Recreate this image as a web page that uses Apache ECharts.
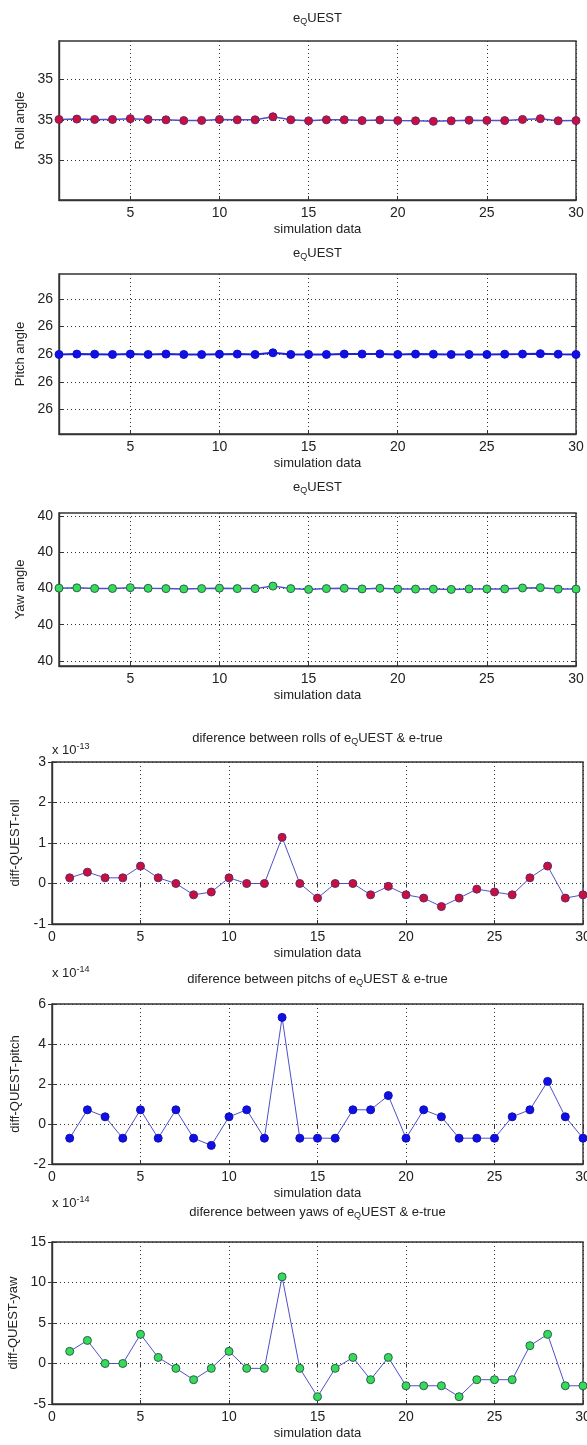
<!DOCTYPE html>
<html>
<head>
<meta charset="utf-8">
<script src="https://cdn.jsdelivr.net/npm/echarts@6/dist/echarts.min.js"></script>
<style>
  html, body { margin: 0; padding: 0; background: #fff; }
  #chart { width: 587px; height: 1445px; }
</style>
</head>
<body>
<div id="chart"></div>
<script>
// Simulation sample index
const samples = [1, 2, 3, 4, 5, 6, 7, 8, 9, 10, 11, 12, 13, 14, 15,
                 16, 17, 18, 19, 20, 21, 22, 23, 24, 25, 26, 27, 28, 29, 30];

// True attitude (degrees)
const trueRoll = 35;
const truePitch = 26;
const trueYaw = 40;

// e_QUEST minus e-true, roll in units of 1e-13
const rollDiff = [0.14, 0.28, 0.14, 0.14, 0.43, 0.14, 0, -0.28, -0.21, 0.14,
                  0, 0, 1.14, 0, -0.36, 0, 0, -0.28, -0.07, -0.28,
                  -0.36, -0.57, -0.36, -0.14, -0.21, -0.28, 0.14, 0.43, -0.36, -0.28];
// pitch in units of 1e-14
const pitchDiff = [-0.71, 0.71, 0.36, -0.71, 0.71, -0.71, 0.71, -0.71, -1.07, 0.36,
                   0.71, -0.71, 5.33, -0.71, -0.71, -0.71, 0.71, 0.71, 1.42, -0.71,
                   0.71, 0.36, -0.71, -0.71, -0.71, 0.36, 0.71, 2.13, 0.36, -0.71];
// yaw in units of 1e-14
const yawDiff = [1.5, 2.85, 0, 0, 3.6, 0.75, -0.6, -2.0, -0.6, 1.5,
                 -0.6, -0.6, 10.7, -0.6, -4.1, -0.6, 0.75, -2.0, 0.75, -2.75,
                 -2.75, -2.75, -4.1, -2.0, -2.0, -2.0, 2.2, 3.6, -2.75, -2.75];

// Axis ticks
const angleXTicks = [5, 10, 15, 20, 25, 30];
const rollAngleTicks = [-15, 0, 15];               // offset from true roll, x1e-13
const pitchAngleTicks = [-200, -100, 0, 100, 200]; // offset from true pitch, x1e-14
const yawAngleTicks = [-320, -160, 0, 160, 320];   // offset from true yaw, x1e-14

const FONT = '"Liberation Sans", Arial, Helvetica, sans-serif';
const TEXT = '#222';
const BOX = '#333';
const LINE_BLUE = '#5050c8';

const panels = [
  { // Roll angle estimate
    grid: { left: 59, top: 41, width: 517, height: 159 },
    x: { min: 1, max: 30, custom: angleXTicks },
    y: { min: -29.5, max: 29, custom: rollAngleTicks,
         fmt: v => String(Math.round(trueRoll + v * 1e-13)) },
    yName: 'Roll angle', yNameGap: 31,
    data: rollDiff, fill: '#c8103c', edge: '#6a2470', line: LINE_BLUE, lineW: 1.5,
    title: ['', ''], titleY: 18
  },
  { // Pitch angle estimate
    grid: { left: 59, top: 274, width: 517, height: 160 },
    x: { min: 1, max: 30, custom: angleXTicks },
    y: { min: -288, max: 290, custom: pitchAngleTicks,
         fmt: v => String(Math.round(truePitch + v * 1e-14)) },
    yName: 'Pitch angle', yNameGap: 31,
    data: pitchDiff, fill: '#1010e6', edge: '#1010c0', line: '#2020d8', lineW: 2,
    title: ['', ''], titleY: 253
  },
  { // Yaw angle estimate
    grid: { left: 59, top: 513, width: 517, height: 153 },
    x: { min: 1, max: 30, custom: angleXTicks },
    y: { min: -343, max: 334, custom: yawAngleTicks,
         fmt: v => String(Math.round(trueYaw + v * 1e-14)) },
    yName: 'Yaw angle', yNameGap: 31,
    data: yawDiff, fill: '#36dc58', edge: '#2a6050', line: LINE_BLUE, lineW: 1.5,
    title: ['', ''], titleY: 487
  },
  { // Roll difference
    grid: { left: 52, top: 762, width: 531, height: 162 },
    x: { min: 0, max: 30, interval: 5 },
    y: { min: -1, max: 3, interval: 1 },
    yName: 'diff-QUEST-roll', yNameGap: 30,
    data: rollDiff, fill: '#c8103c', edge: '#6a2470', line: LINE_BLUE, lineW: 1,
    title: ['diference between rolls of ', ' & e-true'], titleY: 738,
    exp: '-13', expY: 750
  },
  { // Pitch difference
    grid: { left: 52, top: 1004, width: 531, height: 160 },
    x: { min: 0, max: 30, interval: 5 },
    y: { min: -2, max: 6, interval: 2 },
    yName: 'diff-QUEST-pitch', yNameGap: 30,
    data: pitchDiff, fill: '#1010e6', edge: '#1010b0', line: LINE_BLUE, lineW: 1,
    title: ['diference between pitchs of ', ' & e-true'], titleY: 979,
    exp: '-14', expY: 973
  },
  { // Yaw difference
    grid: { left: 52, top: 1242, width: 531, height: 162 },
    x: { min: 0, max: 30, interval: 5 },
    y: { min: -5, max: 15, interval: 5 },
    yName: 'diff-QUEST-yaw', yNameGap: 30,
    data: yawDiff, fill: '#36dc58', edge: '#2a6050', line: LINE_BLUE, lineW: 1,
    title: ['diference between yaws of ', ' & e-true'], titleY: 1212,
    exp: '-14', expY: 1203
  }
];

const grids = [], xAxes = [], yAxes = [], series = [], graphics = [];
const gridLine = { show: true, lineStyle: { color: '#333', width: 1, type: [1, 3] } };

panels.forEach((p, i) => {
  grids.push(Object.assign({
    show: true, borderColor: BOX, borderWidth: 1.4, backgroundColor: '#fff',
    containLabel: false, outerBoundsMode: 'none'
  }, p.grid));

  const xScale = { min: p.x.min, max: p.x.max };
  if (p.x.interval) xScale.interval = p.x.interval;
  const yScale = { min: p.y.min, max: p.y.max };
  if (p.y.interval) yScale.interval = p.y.interval;

  const tickBase = { show: true, inside: true, length: 4, lineStyle: { color: BOX } };
  const xTick = Object.assign({}, tickBase, p.x.custom ? { customValues: p.x.custom } : {});
  const yTick = Object.assign({}, tickBase, p.y.custom ? { customValues: p.y.custom } : {});

  // bottom and left axes carry labels and grid lines
  xAxes.push(Object.assign({
    type: 'value', gridIndex: i, position: 'bottom',
    name: 'simulation data', nameLocation: 'middle', nameGap: 23,
    nameTextStyle: { fontFamily: FONT, fontSize: 13, color: TEXT },
    axisLine: { show: true, onZero: false, lineStyle: { color: BOX, width: 1.4 } },
    axisTick: xTick,
    axisLabel: Object.assign({ fontFamily: FONT, fontSize: 14, color: TEXT, margin: 6, showMinLabel: true, showMaxLabel: true },
                             p.x.custom ? { customValues: p.x.custom } : {}),
    splitLine: gridLine
  }, xScale));
  yAxes.push(Object.assign({
    type: 'value', gridIndex: i, position: 'left',
    name: p.yName, nameLocation: 'middle', nameGap: p.yNameGap, nameRotate: 90,
    nameTextStyle: { fontFamily: FONT, fontSize: 13, color: TEXT },
    axisLine: { show: true, onZero: false, lineStyle: { color: BOX, width: 1.4 } },
    axisTick: yTick,
    axisLabel: Object.assign({ fontFamily: FONT, fontSize: 14, color: TEXT, margin: 6, showMinLabel: true, showMaxLabel: true },
                             p.y.custom ? { customValues: p.y.custom } : {},
                             p.y.fmt ? { formatter: p.y.fmt } : {}),
    splitLine: gridLine
  }, yScale));
  // mirrored top and right axes, ticks only
  xAxes.push(Object.assign({
    type: 'value', gridIndex: i, position: 'top',
    axisLine: { show: false }, axisTick: xTick, axisLabel: { show: false }, splitLine: { show: false }
  }, xScale));
  yAxes.push(Object.assign({
    type: 'value', gridIndex: i, position: 'right',
    axisLine: { show: false }, axisTick: yTick, axisLabel: { show: false }, splitLine: { show: false }
  }, yScale));

  series.push({
    type: 'line', xAxisIndex: 2 * i, yAxisIndex: 2 * i,
    data: samples.map((s, k) => [s, p.data[k]]),
    symbol: 'circle', symbolSize: 8, showSymbol: true,
    lineStyle: { color: p.line, width: p.lineW },
    itemStyle: { color: p.fill, borderColor: p.edge, borderWidth: 1 },
    emphasis: { disabled: true },
    clip: false, z: 3
  });

  const cx = p.grid.left + p.grid.width / 2;
  graphics.push({
    type: 'text', x: cx, y: p.titleY,
    style: {
      text: '{n|' + p.title[0] + 'e}{s|Q}{n|UEST' + p.title[1] + '}',
      align: 'center', verticalAlign: 'middle',
      rich: {
        n: { fontFamily: FONT, fontSize: 13, fill: TEXT, lineHeight: 16 },
        s: { fontFamily: FONT, fontSize: 9, fill: TEXT, lineHeight: 9, verticalAlign: 'bottom' }
      }
    }
  });
  if (p.exp) {
    graphics.push({
      type: 'text', x: p.grid.left, y: p.expY,
      style: {
        text: '{n|x 10}{p|' + p.exp + '}',
        align: 'left', verticalAlign: 'middle',
        rich: {
          n: { fontFamily: FONT, fontSize: 13, fill: TEXT, lineHeight: 16 },
          p: { fontFamily: FONT, fontSize: 9, fill: TEXT, lineHeight: 9, verticalAlign: 'top' }
        }
      }
    });
  }
});

const chart = echarts.init(document.getElementById('chart'), null, { renderer: 'canvas' });
chart.setOption({
  backgroundColor: '#fff',
  animation: false,
  grid: grids,
  xAxis: xAxes,
  yAxis: yAxes,
  series: series,
  graphic: graphics
});
</script>
</body>
</html>
